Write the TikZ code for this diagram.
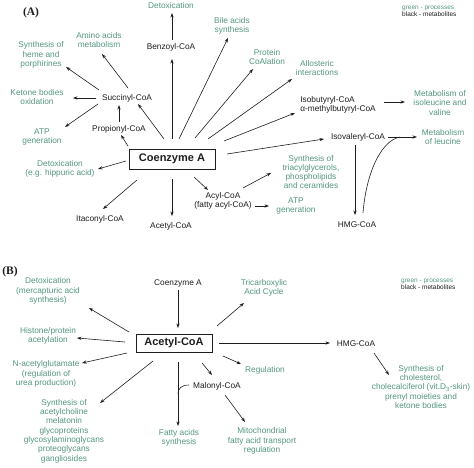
\documentclass[tikz,border=0pt]{standalone}
\usepackage{fontspec}
\setmainfont{Liberation Sans}
\newfontfamily\serifb{Liberation Serif}
\usetikzlibrary{calc,arrows.meta}
\definecolor{proc}{RGB}{84,150,128}
\definecolor{ink}{RGB}{30,30,30}
\begin{document}
\begin{tikzpicture}[x=1pt,y=-1pt,
  lbl/.style={font=\fontsize{8.3}{9.3}\selectfont,align=center,inner sep=0pt},
  pr/.style={lbl,text=proc},
  me/.style={lbl,text=ink},
  hub/.style={draw=ink,line width=0.9pt,font=\fontsize{11}{13}\bfseries\selectfont,inner sep=0pt,text=ink},
  arr/.style={-{Stealth[length=4.5pt,width=3.2pt]},line width=0.6pt,draw=ink},
  plain/.style={line width=0.6pt,draw=ink},
  panel/.style={font=\serifb\fontsize{11.5}{13}\bfseries\selectfont,inner sep=0pt,text=ink},
  legend/.style={font=\fontsize{6.5}{7}\selectfont,align=left,inner sep=0pt,anchor=west,text=ink}]
\useasboundingbox[fill=white] (0,0) rectangle (474,468);

% ---------------- Panel A ----------------
\node[panel] (labA) at (31,13) {(A)};
\node[legend] (legA) at (402,11.5) {{\color{proc}green - processes}\\black - metabolites};
\node[hub,minimum width=86pt,minimum height=20pt] (cA) at (172,159) {Coenzyme A};

\node[pr] (detTop) at (171,6) {Detoxication};
\node[me] (benz) at (171,47) {Benzoyl-CoA};
\node[pr] (bile) at (232,26) {Bile acids\\synthesis};
\node[pr] (prot) at (267,57) {Protein\\CoAlation};
\node[pr] (allo) at (317,68) {Allosteric\\interactions};
\node[me,align=left] (isob) at (338,105) {Isobutyryl-CoA\\α-methylbutyryl-CoA};
\node[pr] (metIso) at (440,103) {Metabolism of\\isoleucine and\\valine};
\node[me] (isov) at (358,137) {Isovaleryl-CoA};
\node[pr] (metLeu) at (443,137) {Metabolism\\of leucine};
\node[me] (hmg) at (357,225) {HMG-CoA};
\node[pr] (synTri) at (311,172) {Synthesis of\\triacylglycerols,\\phospholipids\\and ceramides};
\node[me] (acyl) at (223,201) {Acyl-CoA\\(fatty acyl-CoA)};
\node[pr] (atpR) at (296,206) {ATP\\generation};
\node[me] (acetA) at (171,226) {Acetyl-CoA};
\node[me] (itac) at (100,219) {Itaconyl-CoA};
\node[pr] (detHip) at (60,169) {Detoxication\\(e.g. hippuric acid)};
\node[pr] (atpL) at (42,137) {ATP\\generation};
\node[me] (prop) at (119,129) {Propionyl-CoA};
\node[me] (succ) at (127,98) {Succinyl-CoA};
\node[pr] (keto) at (37,97) {Ketone bodies\\oxidation};
\node[pr] (heme) at (41,55) {Synthesis of\\heme and\\porphirines};
\node[pr] (amino) at (99,40) {Amino acids\\metabolism};

\draw[arr] ($(cA)+(0,-20)$) -- ($(benz)+(1,12)$);
\draw[arr] ($(benz)+(1,-7)$) -- ($(detTop)+(1,7)$);
\draw[arr] ($(cA)+(7,-20)$) -- ($(bile)+(-4,12)$);
\draw[arr] ($(cA)+(23,-21)$) -- ($(prot)+(-14,12)$);
\draw[arr] ($(cA)+(36,-20)$) -- ($(allo)+(-25,11)$);
\draw[arr] ($(cA)+(52,-18)$) -- ($(isob)+(-43,8)$);
\draw[arr] ($(isob)+(46,-3)$) -- ($(metIso)+(-35,-1)$);
\draw[arr] ($(cA)+(55,-5)$) -- ($(isov)+(-34,2)$);
\draw[arr] ($(isov)+(30,0)$) -- ($(metLeu)+(-26,0)$);
\draw[arr] ($(isov)+(-3,8)$) -- ($(hmg)+(-2,-10)$);
\coordinate (join) at ($(isov)+(42,0)$);
\draw[plain] ($(hmg)+(6,-12)$) .. controls ($(hmg)+(9,-50)$) and ($(join)+(-20,4)$) .. (join);
\draw[arr] ($(cA)+(22,18)$) -- ($(acyl)+(-15,-11)$);
\draw[arr] ($(acyl)+(20,-13)$) -- ($(synTri)+(-40,1)$);
\draw[arr] ($(acyl)+(32,5)$) -- ($(atpR)+(-27,0)$);
\draw[arr] ($(cA)+(0,20)$) -- ($(acetA)+(1,-10)$);
\draw[arr] ($(cA)+(-35,21)$) -- ($(itac)+(3,-10)$);
\draw[arr] ($(cA)+(-46,2)$) -- ($(detHip)+(38,0)$);
\draw[arr] ($(cA)+(-44,-13)$) -- ($(prop)+(2,6)$);
\draw[arr] ($(prop)+(0,-7)$) -- ($(succ)+(-8,7)$);
\draw[arr] ($(cA)+(-8,-20)$) -- ($(succ)+(11,6)$);
\draw[arr] ($(succ)+(1,-10)$) -- ($(amino)+(3,14)$);
\draw[arr] ($(succ)+(-28,-8)$) -- ($(heme)+(25,12)$);
\draw[arr] ($(succ)+(-31,0)$) -- ($(keto)+(36,1)$);
\draw[arr] ($(succ)+(-29,6)$) -- ($(atpL)+(23,-10)$);

% ---------------- Panel B ----------------
\node[panel] (labB) at (10,272) {(B)};
\node[legend] (legB) at (401,284.5) {{\color{proc}green - processes}\\black - metabolites};
\node[hub,minimum width=76pt,minimum height=18pt] (acB) at (174,343) {Acetyl-CoA};

\node[me] (coB) at (178,283) {Coenzyme A};
\node[pr] (detB) at (48,291) {Detoxication\\(mercapturic acid\\synthesis)};
\node[pr] (hist) at (48,336) {Histone/protein\\acetylation};
\node[pr] (nacet) at (46,374) {N-acetylglutamate\\(regulation of\\urea production)};
\node[pr] (synAc) at (64,431) {Synthesis of\\acetylcholine\\melatonin\\glycoproteins\\glycosylaminoglycans\\proteoglycans\\gangliosides};
\node[pr] (fatty) at (179,438) {Fatty acids\\synthesis};
\node[me] (malo) at (217,386) {Malonyl-CoA};
\node[pr] (regul) at (265,370) {Regulation};
\node[pr] (mito) at (262,441) {Mitochondrial\\fatty acid transport\\regulation};
\node[pr] (tca) at (264,288) {Tricarboxylic\\Acid Cycle};
\node[me] (hmgB) at (356,344) {HMG-CoA};
\node[pr] (chol) at (421,387) {Synthesis of\\cholesterol,\\cholecalciferol (vit.D\textsubscript{3}-skin)\\prenyl moieties and\\ketone bodies};

\draw[arr] ($(coB)+(0,7)$) -- ($(acB)+(4,-15)$);
\draw[arr] ($(acB)+(-45,-11)$) -- ($(detB)+(41,17)$);
\draw[arr] ($(acB)+(-49,-1)$) -- ($(hist)+(29,2)$);
\draw[arr] ($(acB)+(-47,10)$) -- ($(nacet)+(36,-11)$);
\draw[arr] ($(acB)+(-21,18)$) -- ($(synAc)+(36,-28)$);
\draw[arr] ($(acB)+(4,19)$) -- ($(fatty)+(-1,-12)$);
\coordinate (mjoin) at ($(acB)+(4,51)$);
\draw[plain] ($(malo)+(-28,-1)$) .. controls ($(malo)+(-36,-1)$) and ($(mjoin)+(0,-5)$) .. (mjoin);
\draw[arr] ($(acB)+(28,20)$) -- ($(malo)+(-5,-11)$);
\draw[arr] ($(acB)+(49,13)$) -- ($(regul)+(-24,-6)$);
\draw[arr] ($(malo)+(8,9)$) -- ($(mito)+(-17,-19)$);
\draw[arr] ($(acB)+(43,-17)$) -- ($(tca)+(-20,15)$);
\draw[arr] ($(acB)+(45,0)$) -- ($(hmgB)+(-26,-1)$);
\draw[arr] ($(hmgB)+(18,9)$) -- ($(chol)+(-32,-12)$);
\end{tikzpicture}
\end{document}
